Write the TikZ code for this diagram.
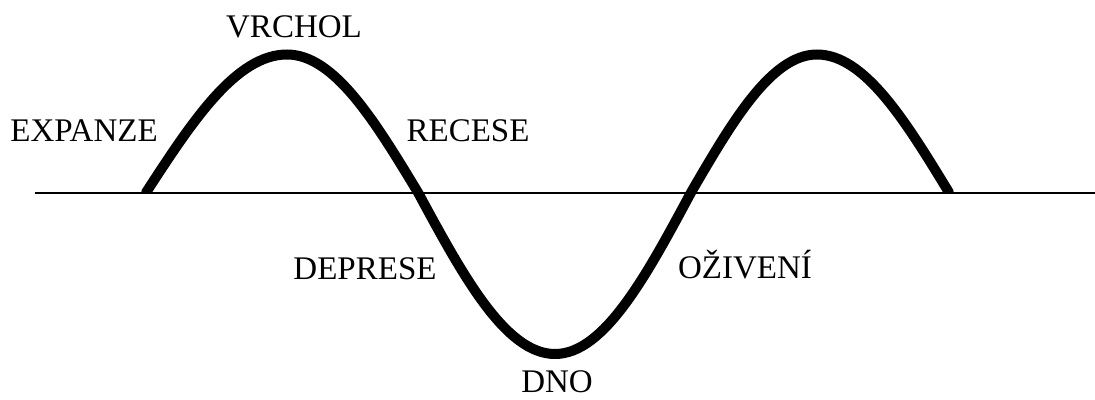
\documentclass[tikz,border=0pt]{standalone}
\usepackage{fontspec}
\setmainfont{Liberation Serif}
\usetikzlibrary{positioning}
\tikzset{
  wave/.style={line width=10pt, line cap=round},
  axisline/.style={line width=2pt},
  phase/.style={font=\fontsize{33}{38}\selectfont, inner sep=0pt, anchor=base}
}

\begin{document}
\begin{tikzpicture}[x=1pt, y=-1pt]
      \useasboundingbox (0,0) rectangle (1095,399);
      % axis and the two crossings where the wave starts and ends
      \coordinate (a0) at (35,192.5);
      \coordinate (a1) at (1095,192.5);
      \draw[axisline] (a0) -- (a1);
      \begin{scope}
        \clip (0,0) -- (1095,0) -- (1095,192.5) -- (900,192.5) -- (900,399)
          -- (200,399) -- (200,192.5) -- (0,192.5) -- cycle;
        \draw[wave] (146,192.5) sin (287,54.5) cos (418,192.5) sin (555,354)
          cos (691,192.5) sin (817,54.5) cos (949,192.5);
      \end{scope}
      \node[phase] (vrchol) at (294,37) {VRCHOL};
      \node[phase] (expanze) at (84,141) {EXPANZE};
      \node[phase] (recese) at (468,141) {RECESE};
      \node[phase] (deprese) at (365,279) {DEPRESE};
      \node[phase] (oziveni) at (745,278) {OŽIVENÍ};
      \node[phase] (dno) at (557,392) {DNO};
\end{tikzpicture}
\end{document}
